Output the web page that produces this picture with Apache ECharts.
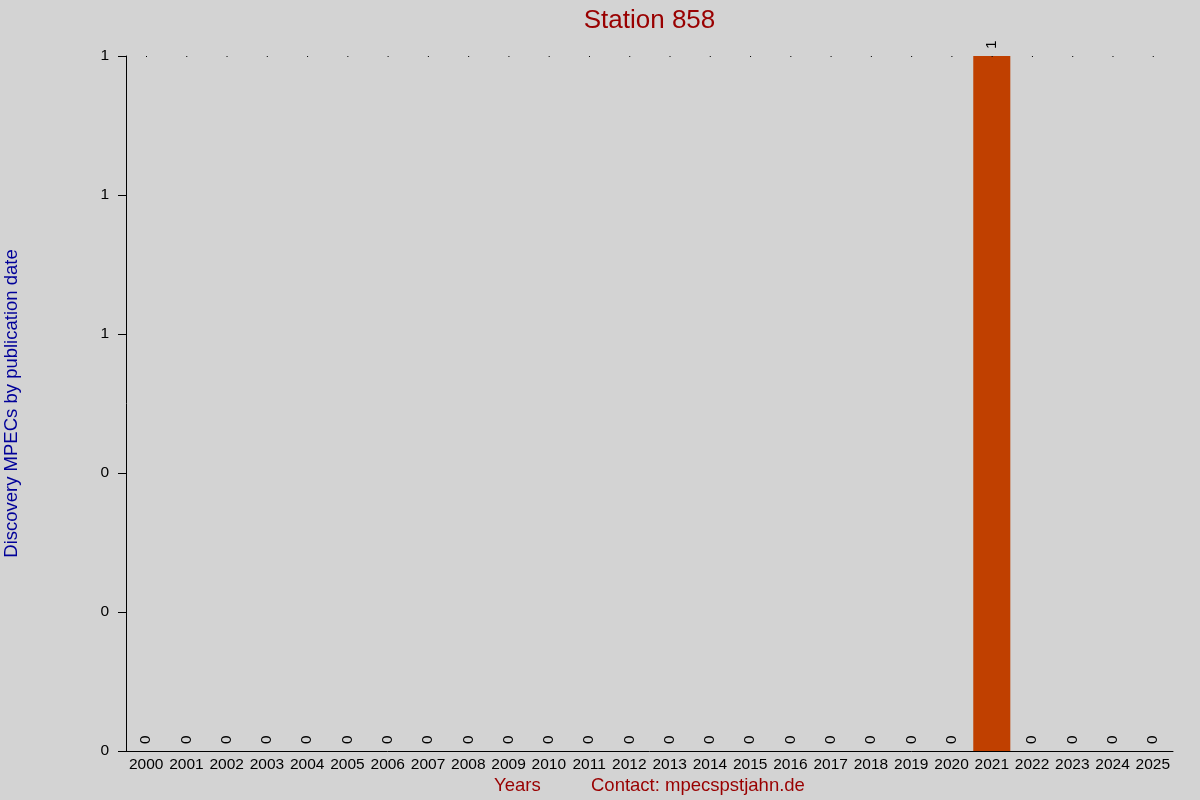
<!DOCTYPE html>
<html>
<head>
<meta charset="utf-8">
<script src="https://cdn.jsdelivr.net/npm/echarts@6/dist/echarts.min.js"></script>
<style>html,body{margin:0;padding:0;background:#d3d3d3;}#c{width:1200px;height:800px;}</style>
</head>
<body>
<div id="c"></div>
<script>
var years = ['2000','2001','2002','2003','2004','2005','2006','2007','2008','2009','2010','2011','2012','2013','2014','2015','2016','2017','2018','2019','2020','2021','2022','2023','2024','2025'];
var counts = [0,0,0,0,0,0,0,0,0,0,0,0,0,0,0,0,0,0,0,0,0,1,0,0,0,0];
var titleText = 'Station 858';
var yName = 'Discovery MPECs by publication date';
var xName = 'Years';
var contact = 'Contact: mpecspstjahn.de';

var chart = echarts.init(document.getElementById('c'));
var font = 'Liberation Sans, Arial, sans-serif';
chart.setOption({
  backgroundColor: '#d3d3d3',
  animation: false,
  textStyle: {fontFamily: font},
  title: {
    text: titleText, left: 644.5, top: 3, textAlign: 'center',
    textStyle: {color: '#990000', fontSize: 26, fontWeight: 'normal', fontFamily: font}
  },
  grid: {left: 126, right: 27, top: 56, bottom: 49, containLabel: false, outerBoundsMode: 'none'},
  xAxis: {
    type: 'category', data: years,
    axisLine: {show: true, lineStyle: {color: '#000', width: 1}},
    axisTick: {show: false},
    axisLabel: {color: '#000', fontSize: 15.5, margin: 6, interval: 0, fontFamily: font},
    splitLine: {show: false}
  },
  yAxis: {
    type: 'value', min: 0, max: 1, interval: 0.2,
    name: yName, nameLocation: 'middle', nameGap: 105, nameRotate: 90,
    nameTextStyle: {color: '#000099', fontSize: 18.5, fontFamily: font},
    axisLine: {show: true, lineStyle: {color: '#000', width: 1}},
    axisTick: {show: true, length: 8, lineStyle: {color: '#000'}},
    axisLabel: {color: '#000', fontSize: 15.5, margin: 17, fontFamily: font,
      formatter: function (v) { return v.toFixed(0); }},
    splitLine: {show: false}
  },
  series: [{
    type: 'bar', data: counts, barCategoryGap: '8%',
    itemStyle: {color: '#c04000'},
    label: {
      show: true, position: 'top', rotate: 90, align: 'left', verticalAlign: 'middle',
      distance: 7, color: '#000', fontSize: 15.5, fontFamily: font
    },
    markLine: {
      silent: true, symbol: 'none', label: {show: false},
      lineStyle: {color: '#000', width: 1, type: [1, 39.27], dashOffset: 20.27},
      data: [{yAxis: 1}]
    }
  }],
  graphic: [
    {type: 'text', left: 494, top: 776, style: {text: xName, fill: '#990000', font: '18.5px ' + font}},
    {type: 'text', left: 591, top: 776, style: {text: contact, fill: '#990000', font: '18.5px ' + font}}
  ]
});
</script>
</body>
</html>
